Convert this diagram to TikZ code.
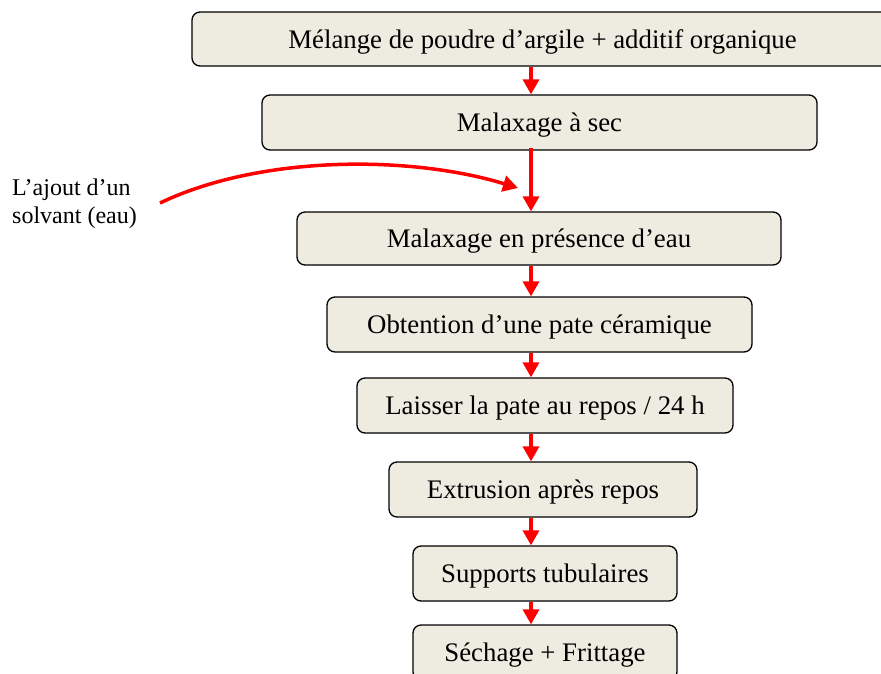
\documentclass[tikz,border=0pt]{standalone}
\usepackage{fontspec}
\setmainfont{Liberation Serif}
\usetikzlibrary{arrows.meta}
\definecolor{boxfill}{RGB}{238,236,225}
\definecolor{arrowred}{RGB}{255,0,0}
\tikzset{
  stepbox/.style={draw=black, line width=1.3pt, fill=boxfill, rounded corners=8pt,
    minimum height=54pt, inner sep=0pt, font=\fontsize{26.8}{30}\selectfont,
    text height=20pt, text depth=2pt},
  redarrow/.style={draw=arrowred, line width=3.5pt,
    -{Triangle[length=15pt,width=16pt]}}
}
\begin{document}
\begin{tikzpicture}[x=1pt,y=-1pt]
\useasboundingbox (0,0) rectangle (881,673);
\node[stepbox, minimum width=701pt] (b1) at (542.5,39) {Mélange de poudre d’argile + additif organique};
\node[stepbox, minimum width=555pt, minimum height=55pt] (b2) at (539.5,122.5) {Malaxage à sec};
\node[stepbox, minimum width=484pt, minimum height=53pt] (b3) at (539,238.5) {Malaxage en présence d’eau};
\node[stepbox, minimum width=425pt, minimum height=55pt] (b4) at (539.5,324.5) {Obtention d’une pate céramique};
\node[stepbox, minimum width=376pt, minimum height=55pt] (b5) at (545,405.5) {Laisser la pate au repos / 24 h};
\node[stepbox, minimum width=308pt, minimum height=55pt] (b6) at (543,489.5) {Extrusion après repos};
\node[stepbox, minimum width=264pt, minimum height=55pt] (b7) at (545,573.5) {Supports tubulaires};
\node[stepbox, minimum width=264pt, minimum height=55pt] (b8) at (545,652.5) {Séchage + Frittage};
\node[anchor=north west, align=left, inner sep=0pt, font=\fontsize{24}{28}\selectfont] (lab) at (12,179) {L’ajout d’un\\solvant (eau)};
\coordinate (ax) at (531,0);
\coordinate (cs) at (160,203);
\coordinate (ce) at (518,188);
\draw[redarrow] (b1.south -| ax) -- (b2.north -| ax);
\draw[redarrow] ([yshift=3pt]b2.south -| ax) -- (b3.north -| ax);
\draw[redarrow] (b3.south -| ax) -- (b4.north -| ax);
\draw[redarrow] (b4.south -| ax) -- (b5.north -| ax);
\draw[redarrow] (b5.south -| ax) -- (b6.north -| ax);
\draw[redarrow] (b6.south -| ax) -- (b7.north -| ax);
\draw[redarrow] (b7.south -| ax) -- (b8.north -| ax);
\draw[redarrow] (cs) .. controls (260,155) and (410,155) .. (ce);
\end{tikzpicture}
\end{document}
